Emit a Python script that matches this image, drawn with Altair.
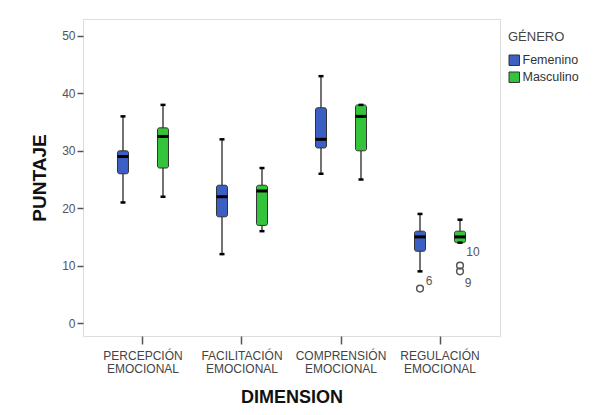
import altair as alt
import pandas as pd

dims = ["PERCEPCIÓN EMOCIONAL", "FACILITACIÓN EMOCIONAL", "COMPRENSIÓN EMOCIONAL", "REGULACIÓN EMOCIONAL"]
genders = ["Femenino", "Masculino"]

fem_min = [21, 12, 26, 9]
fem_q1 = [26, 18.5, 30.5, 12.5]
fem_med = [29, 22, 32, 15]
fem_q3 = [30, 24, 37.5, 16]
fem_max = [36, 32, 43, 19]

mas_min = [22, 16, 25, 14]
mas_q1 = [27, 17, 30, 14]
mas_med = [32.5, 23, 36, 15]
mas_q3 = [34, 24, 38, 16]
mas_max = [38, 27, 38, 18]

out_dim = ["REGULACIÓN EMOCIONAL", "REGULACIÓN EMOCIONAL", "REGULACIÓN EMOCIONAL"]
out_gen = ["Femenino", "Masculino", "Masculino"]
out_val = [6, 10, 9]
out_lab = ["6", "10", "9"]

rows = []
for i, d in enumerate(dims):
    rows.append(dict(dim=d, gen="Femenino", lo=fem_min[i], q1=fem_q1[i], med=fem_med[i], q3=fem_q3[i], hi=fem_max[i]))
    rows.append(dict(dim=d, gen="Masculino", lo=mas_min[i], q1=mas_q1[i], med=mas_med[i], q3=mas_q3[i], hi=mas_max[i]))
stats = pd.DataFrame(rows)
outs = pd.DataFrame(dict(dim=out_dim, gen=out_gen, val=out_val, lab=out_lab))

FONT = "Liberation Sans"

x = alt.X("dim:N", sort=dims, title="DIMENSION",
          scale=alt.Scale(paddingInner=0, paddingOuter=0.106),
          axis=alt.Axis(labelAngle=0, labelExpr="split(datum.label, ' ')",
                        labelFontSize=12, labelColor="#444", labelFont=FONT,
                        labelPadding=6, tickSize=8, tickColor="#555", tickWidth=1.5,
                        domain=False, titleFontSize=18, titleFontWeight="bold",
                        titleFont=FONT, titleColor="#111", titlePadding=14,
                        labelLineHeight=13))
xo = alt.XOffset("gen:N", sort=genders, scale=alt.Scale(paddingOuter=0.2375, paddingInner=0))
yscale = alt.Scale(domain=[-2.26, 52.96], nice=False, zero=False)
yaxis = alt.Axis(values=[0, 10, 20, 30, 40, 50], labelFontSize=12, labelColor="#555",
                 labelFont=FONT, tickSize=6, tickColor="#555", tickWidth=1.5,
                 domain=False, grid=False, titleFontSize=19, titleFontWeight="bold",
                 titleFont=FONT, titleColor="#111", titlePadding=12, labelPadding=2)

color = alt.Color("gen:N", sort=genders, title="GÉNERO",
                  scale=alt.Scale(domain=genders, range=["#3b5fc4", "#34c43c"]),
                  legend=alt.Legend(orient="none", legendX=425, legendY=12,
                                    symbolType="square", symbolSize=110,
                                    symbolStrokeColor="#333", symbolStrokeWidth=1,
                                    titleFontSize=13, titleFontWeight="normal",
                                    titleColor="#444", titleFont=FONT,
                                    labelFontSize=12.5, labelColor="#333", labelFont=FONT,
                                    rowPadding=2, titlePadding=10, padding=0,
                                    symbolOffset=0, labelOffset=2))

base = alt.Chart(stats)

whisk = base.mark_rule(color="#444", strokeWidth=1.5).encode(
    x=x, xOffset=xo, y=alt.Y("lo:Q", scale=yscale, axis=yaxis, title="PUNTAJE"), y2="hi:Q")
box = base.mark_bar(size=11, stroke="#333", strokeWidth=1, cornerRadius=2).encode(
    x=x, xOffset=xo, y=alt.Y("q1:Q"), y2="q3:Q", color=color)
med = base.mark_tick(color="black", thickness=3, size=11, opacity=1).encode(
    x=x, xOffset=xo, y="med:Q")
cap_lo = base.mark_tick(color="black", thickness=2.5, size=5, opacity=1).encode(
    x=x, xOffset=xo, y="lo:Q")
cap_hi = base.mark_tick(color="black", thickness=2.5, size=5, opacity=1).encode(
    x=x, xOffset=xo, y="hi:Q")

ob = alt.Chart(outs)
pts = ob.mark_point(shape="circle", filled=False, color="#555", size=45, strokeWidth=1.5, opacity=1).encode(
    x=x, xOffset=xo, y="val:Q")
lab6 = ob.transform_filter("datum.lab == '6'").mark_text(
    dx=9, dy=-8, fontSize=12, color="#555", font=FONT).encode(x=x, xOffset=xo, y="val:Q", text="lab:N")
lab10 = ob.transform_filter("datum.lab == '10'").mark_text(
    dx=13, dy=-14, fontSize=12, color="#555", font=FONT).encode(x=x, xOffset=xo, y="val:Q", text="lab:N")
lab9 = ob.transform_filter("datum.lab == '9'").mark_text(
    dx=8, dy=12, fontSize=12, color="#555", font=FONT).encode(x=x, xOffset=xo, y="val:Q", text="lab:N")

chart = alt.layer(whisk, box, med, cap_lo, cap_hi, pts, lab6, lab10, lab9).properties(
    width=417, height=317,
    autosize=alt.AutoSizeParams(type="none"),
    padding={"left": 75, "top": 11, "right": 83, "bottom": 71},
).configure_view(stroke="#444", strokeWidth=1.8).configure(background="white")

chart.save("out.html", embed_options={"renderer": "svg", "actions": False})
